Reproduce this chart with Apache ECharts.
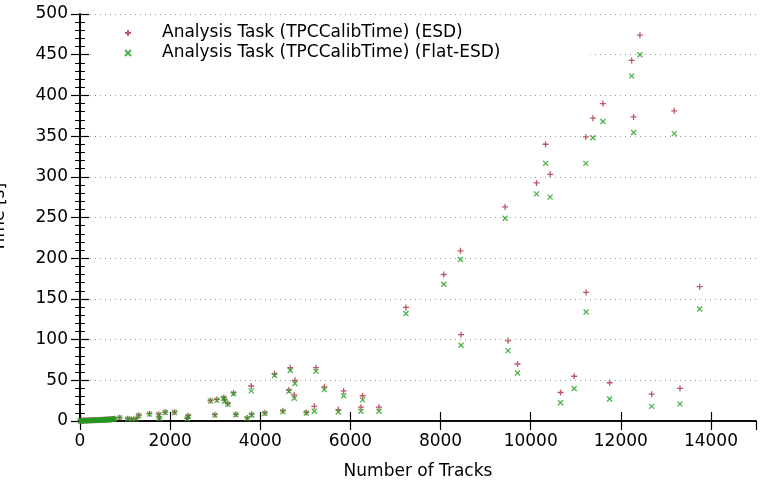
<!DOCTYPE html>
<html>
<head>
<meta charset="utf-8">
<script src="https://cdn.jsdelivr.net/npm/echarts@6/dist/echarts.min.js"></script>
<style>
  html, body { margin: 0; padding: 0; background: #fff; }
  #chart { width: 762px; height: 488px; }
</style>
</head>
<body>
<div id="chart"></div>
<script>
// number of tracks per job, with run time of both task variants
const tracks = [
    5, 20, 40, 60, 90, 110, 140, 170, 200, 230, 260, 290, 320, 350, 380, 410, 440, 470, 500, 530,
    560, 590, 620, 650, 680, 710, 740, 760, 882, 1059, 1148, 1246, 1304, 1541, 1748, 1760, 1890, 2097,
    2380, 2401, 2896, 2992, 3036, 3190, 3210, 3280, 3407, 3458, 3711, 3800, 3810, 4102, 4318, 4502,
    4635, 4666, 4755, 4769, 5022, 5199, 5235, 5421, 5732, 5850, 6234, 6272, 6634,
    7234, 8071, 8442, 8455, 9433, 9499, 9708, 10130, 10330, 10432, 10663, 10965, 11225, 11230,
    11381, 11603, 11751, 12240, 12284, 12424, 12684, 13186, 13313, 13750
];
const esdTime = [
    0.3, 0.4, 0.5, 0.4, 0.6, 0.5, 0.7, 0.6, 0.8, 0.9, 0.8, 1.0, 1.1, 1.0, 1.2, 1.3, 1.2, 1.4, 1.6, 1.5,
    1.7, 1.9, 2.0, 1.8, 2.3, 2.6, 2.4, 2.8, 4.2, 2.8, 2.2, 2.8, 7.2, 9.0, 8.4, 3.6, 11.0, 11.0,
    3.2, 6.6, 25.2, 7.8, 26.5, 29.0, 26.0, 21.5, 34.5, 8.2, 3.8, 43, 8.4, 10, 58, 12.5,
    38, 65.5, 32, 50, 10.5, 18, 65.5, 42, 14, 37, 17, 31, 17,
    139.5, 180, 209, 106, 263, 98.5, 70, 292.5, 340, 303, 35, 55, 349, 158,
    372, 390, 47, 443, 373.5, 474, 33, 381, 40, 165
];
const flatTime = [
    0.2, 0.3, 0.3, 0.3, 0.4, 0.4, 0.5, 0.5, 0.6, 0.7, 0.6, 0.8, 0.9, 0.8, 1.0, 1.1, 1.0, 1.2, 1.3, 1.3,
    1.5, 1.6, 1.7, 1.6, 2.0, 2.2, 2.1, 2.5, 3.8, 2.4, 1.9, 2.3, 6.5, 8.4, 7.8, 3.0, 10.4, 10.4,
    2.6, 5.8, 24.4, 7.2, 25.6, 28.0, 24.5, 20.5, 33.5, 7.6, 3.0, 37, 7.4, 9.2, 56, 11.5,
    36.5, 62, 28, 46, 9.8, 12, 61, 38.5, 11, 31, 12, 26, 12,
    132, 168, 198.5, 93, 249, 86.5, 59, 279, 316.5, 275, 22.5, 40, 316.5, 134,
    348, 368, 27, 424, 354.5, 450, 18, 353, 21, 137.5
];
const xTicks = { min: 0, max: 15000, step: 2000 };
const yTicks = { min: 0, max: 500, step: 50 };

const esdName = 'Analysis Task (TPCCalibTime) (ESD)';
const flatName = 'Analysis Task (TPCCalibTime) (Flat-ESD)';

const font = 'DejaVu Sans';
const frame = { show: true, lineStyle: { color: '#000', width: 1.6 } };

function xAxis(pos, labels) {
    return {
        type: 'value', position: pos,
        min: xTicks.min, max: xTicks.max, interval: xTicks.step,
        name: labels ? 'Number of Tracks' : '',
        nameLocation: 'middle', nameGap: 42,
        nameTextStyle: { fontFamily: font, fontSize: 17, color: '#000' },
        axisLine: frame,
        axisTick: { show: true, inside: true, length: 9, lineStyle: { color: '#000', width: 1.2 } },
        axisLabel: {
            show: labels, showMaxLabel: false, margin: 12,
            fontFamily: font, fontSize: 17, color: '#000',
            formatter: v => String(v)
        },
        splitLine: { show: false }
    };
}

function yAxis(pos, labels) {
    return {
        type: 'value', position: pos,
        min: yTicks.min, max: yTicks.max, interval: yTicks.step,
        name: labels ? 'Time [s]' : '',
        nameLocation: 'middle', nameGap: 72, nameRotate: 90, nameMoveOverlap: false,
        nameTextStyle: { fontFamily: font, fontSize: 17, color: '#000' },
        axisLine: frame,
        axisTick: { show: true, inside: true, length: 9, lineStyle: { color: '#000', width: 1.2 } },
        minorTick: { show: true, splitNumber: 5, length: 5, lineStyle: { color: '#000', width: 1 } },
        axisLabel: {
            show: labels, margin: 12,
            fontFamily: font, fontSize: 17, color: '#000',
            formatter: v => String(v)
        },
        splitLine: { show: labels, lineStyle: { color: '#999', width: 1, type: [1, 4] } }
    };
}

const chart = echarts.init(document.getElementById('chart'));
chart.setOption({
    animation: false,
    backgroundColor: '#fff',
    grid: { left: 80, right: 6, top: 14, bottom: 67, containLabel: false, outerBoundsMode: 'none' },
    legend: {
        orient: 'vertical', left: 92, top: 19,
        padding: [4, 90, 4, 32],
        itemWidth: 6, itemHeight: 6, itemGap: 0,
        backgroundColor: '#fff',
        textStyle: { fontFamily: font, fontSize: 17, color: '#000', lineHeight: 20, padding: [0, 0, 0, 26] },
        data: [esdName, flatName]
    },
    xAxis: [xAxis('bottom', true), xAxis('top', false)],
    yAxis: [yAxis('left', true), yAxis('right', false)],
    series: [
        {
            name: esdName, type: 'scatter',
            symbol: 'path://M0,5L10,5M5,0L5,10', symbolSize: 6,
            itemStyle: { color: '#a8303c', borderColor: '#a8303c', borderWidth: 1.3 },
            data: tracks.map((t, i) => [t, esdTime[i]])
        },
        {
            name: flatName, type: 'scatter',
            symbol: 'path://M0,0L10,10M10,0L0,10', symbolSize: 5,
            itemStyle: { color: '#1f9e1f', borderColor: '#1f9e1f', borderWidth: 1.3 },
            data: tracks.map((t, i) => [t, flatTime[i]])
        }
    ]
});
</script>
</body>
</html>
